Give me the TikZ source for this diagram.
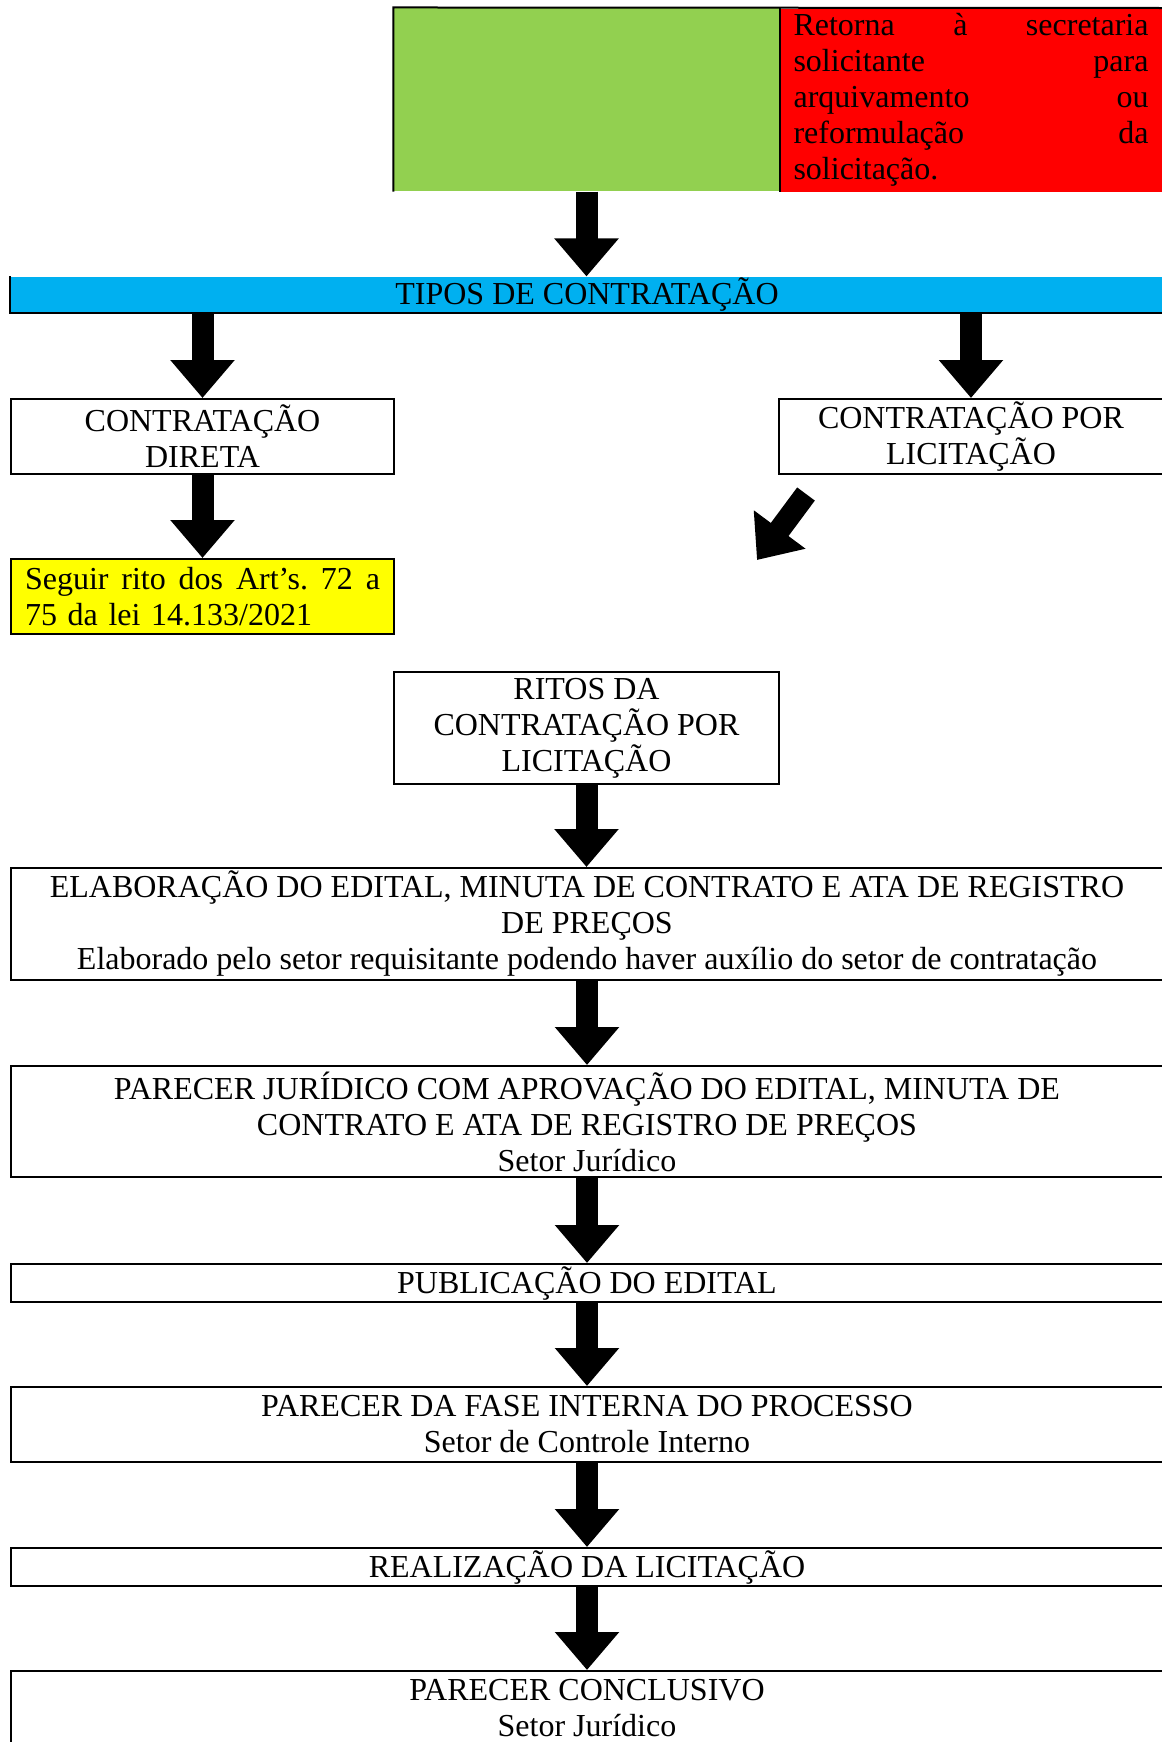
\documentclass[tikz,border=0pt]{standalone}
\usepackage{fontspec}
\setmainfont{Liberation Serif}
\usepackage{tikz}
\usetikzlibrary{positioning}
\usetikzlibrary{arrows.meta}

\definecolor{verde}{HTML}{92D050}
\definecolor{vermelho}{HTML}{FF0000}
\definecolor{azul}{HTML}{00B0F0}
\definecolor{amarelo}{HTML}{FFFF00}

\newdimen\pxu
\pxu=0.375pt
\newcommand{\linhaj}[1]{\leavevmode\hbox to 355\pxu{#1}}

\begin{document}
\begin{tikzpicture}[x=0.375pt, y=-0.375pt,
		caixa/.style={draw, line width=0.75pt, align=center, inner sep=0pt, font=\fontsize{12}{13.5}\selectfont},
		faixa/.style={caixa, minimum width=1152\pxu},
		seta/.style={line width=8.25pt, -{Triangle[width=23.25pt, length=14.25pt]}}]
	\useasboundingbox (0,0) rectangle (1161,1742);

	\node[fill=verde, inner sep=0pt, minimum width=385\pxu, minimum height=183\pxu] (aprova) at (586.5,99.5) {};
	\node[fill=vermelho, anchor=north west, inner xsep=14\pxu, inner ysep=0pt, minimum height=183\pxu,
		text width=355\pxu, align=left, font=\fontsize{12}{13.5}\selectfont] (retorna) at (779,8)
		{\linhaj{Retorna\hfill à\hfill secretaria}\\
		\linhaj{solicitante\hfill para}\\
		\linhaj{arquivamento\hfill ou}\\
		\linhaj{reformulação\hfill da}\\
		solicitação.};
	\draw[line width=0.75pt] (aprova.south west) -- (aprova.north west) -- (retorna.north east);
	\draw[line width=0.75pt] (aprova.north east) -- (aprova.south east);

	\node[fill=azul, inner sep=0pt, minimum width=1152\pxu, minimum height=35\pxu,
		font=\fontsize{12}{13.5}\selectfont] (tipos) at (587,294.5) {TIPOS DE CONTRATAÇÃO};
	\draw[line width=0.75pt] (tipos.north west) -- (tipos.south west) -- (tipos.south east);

	\node[caixa, minimum width=383\pxu, minimum height=75\pxu] (direta) at (202.5,436.5) {CONTRATAÇÃO\\DIRETA};
	\node[caixa, minimum width=384\pxu, minimum height=75\pxu] (porlic) at (971,436.5) {CONTRATAÇÃO POR\\LICITAÇÃO};
	\node[caixa, fill=amarelo, minimum width=383\pxu, minimum height=75\pxu, text width=355\pxu, align=left] (seguir) at (202.5,596.5)
		{\linhaj{Seguir\hfill rito\hfill dos\hfill Art’s.\hfill 72\hfill a}\\75 da lei 14.133/2021};
	\node[caixa, minimum width=385\pxu, minimum height=112\pxu] (ritos) at (586.5,728) {RITOS DA\\CONTRATAÇÃO POR\\LICITAÇÃO};
	\node[faixa, minimum height=112\pxu] (elabora) at (587,924)
		{ELABORAÇÃO DO EDITAL, MINUTA DE CONTRATO E ATA DE REGISTRO\\DE PREÇOS\\Elaborado pelo setor requisitante podendo haver auxílio do setor de contratação};
	\node[faixa, minimum height=111\pxu] (parecer) at (587,1121.5)
		{PARECER JURÍDICO COM APROVAÇÃO DO EDITAL, MINUTA DE\\CONTRATO E ATA DE REGISTRO DE PREÇOS\\Setor Jurídico};
	\node[faixa, minimum height=38\pxu] (publica) at (587,1283) {PUBLICAÇÃO DO EDITAL};
	\node[faixa, minimum height=75\pxu] (interna) at (587,1424.5) {PARECER DA FASE INTERNA DO PROCESSO\\Setor de Controle Interno};
	\node[faixa, minimum height=38\pxu] (realiza) at (587,1567) {REALIZAÇÃO DA LICITAÇÃO};
	\node[faixa, minimum height=75\pxu] (conclusivo) at (587,1708.5) {PARECER CONCLUSIVO\\Setor Jurídico};

	\coordinate (diagA) at (806,494);
	\coordinate (diagB) at (757,560);

	\draw[seta] (aprova.south) -- (aprova.south |- tipos.north);
	\draw[seta] (direta.north |- tipos.south) -- (direta.north);
	\draw[seta] (porlic.north |- tipos.south) -- (porlic.north);
	\draw[seta] (direta.south) -- (seguir.north);
	\draw[seta] (diagA) -- (diagB);
	\draw[seta] (ritos.south) -- (ritos.south |- elabora.north);
	\draw[seta] (elabora.south) -- (parecer.north);
	\draw[seta] (parecer.south) -- (publica.north);
	\draw[seta] (publica.south) -- (interna.north);
	\draw[seta] (interna.south) -- (realiza.north);
	\draw[seta] (realiza.south) -- (conclusivo.north);
\end{tikzpicture}
\end{document}
